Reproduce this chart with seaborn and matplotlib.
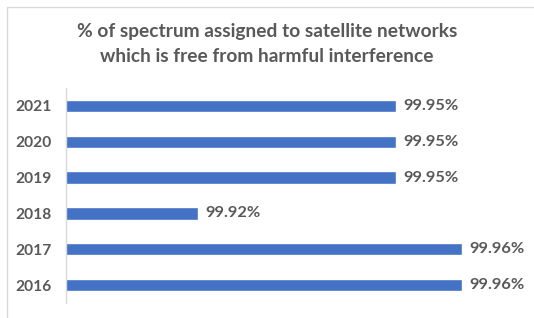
import matplotlib
matplotlib.use("Agg")
import matplotlib.pyplot as plt
import seaborn as sns
import pandas as pd
from matplotlib.patches import Rectangle

years = ["2021", "2020", "2019", "2018", "2017", "2016"]
share_free = [99.95, 99.95, 99.95, 99.92, 99.96, 99.96]
title = "% of spectrum assigned to satellite networks\nwhich is free from harmful interference"

df = pd.DataFrame({"year": years, "share": share_free})

sns.set_theme(style="white")
plt.rcParams["font.family"] = ["Lato", "DejaVu Sans"]
text_color = "#595959"

fig = plt.figure(figsize=(5.34, 3.18), dpi=100)
ax = fig.add_axes([66 / 534, 15 / 318, 462 / 534, 215 / 318])

sns.barplot(data=df, x="share", y="year", order=years, orient="h",
            color="#4472C4", saturation=1, width=0.34, ax=ax)

ax.set_xlim(99.90, 99.97)
ax.set_xticks([])
ax.set_xlabel("")
ax.set_ylabel("")
for s in ["top", "right", "bottom"]:
    ax.spines[s].set_visible(False)
ax.spines["left"].set_color("#d9d9d9")
ax.spines["left"].set_linewidth(1)
ax.tick_params(axis="y", length=0, pad=10, labelsize=11.2, labelcolor=text_color)
for lbl in ax.get_yticklabels():
    lbl.set_fontweight("bold")

ax.bar_label(ax.containers[0], fmt="{:.2f}%", padding=5, fontsize=11.8,
             color=text_color, fontweight="bold", clip_on=False)

fig.text(0.5, 1 - 44 / 318, title, ha="center", va="center", fontsize=13.8,
         fontweight="bold", color=text_color, linespacing=1.5)

# light chart-area frame
fig.patches.append(Rectangle((7 / 534, -0.1), 1.2, 1 - 7 / 318 + 0.1,
                             transform=fig.transFigure, fill=False,
                             edgecolor="#d9d9d9", linewidth=1))

fig.savefig("out.png", dpi=100)
